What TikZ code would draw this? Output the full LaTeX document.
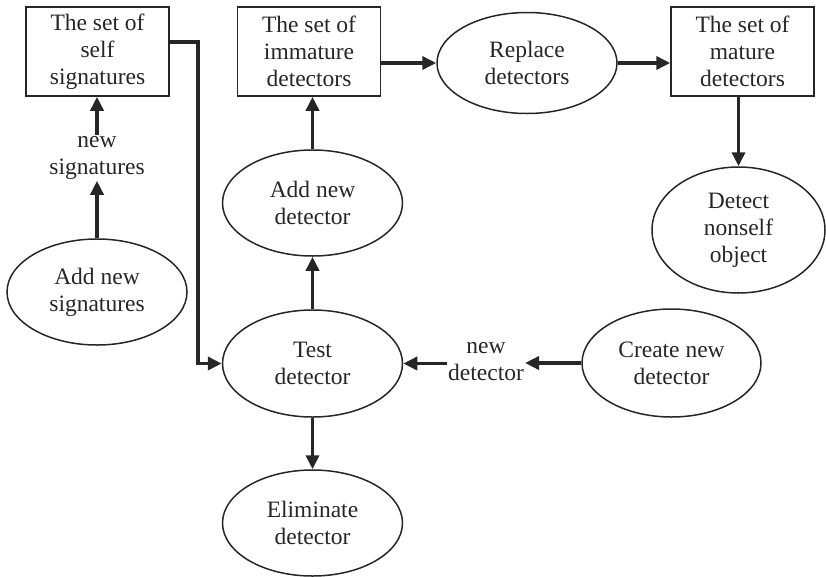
\documentclass[tikz,border=0pt]{standalone}
\usepackage{fontspec}
\setmainfont{Liberation Serif}
\newfontfamily\tnr{Liberation Serif}
\usetikzlibrary{shapes.geometric,arrows.meta}
\begin{document}
\begin{tikzpicture}[x=1pt,y=-1pt,
  every node/.style={font=\tnr\fontsize{23.5}{27}\selectfont, align=center, text=black!85},
  box/.style={draw=black!85, line width=1.5pt, minimum width=143pt, minimum height=89pt, inner sep=0pt},
  oval/.style={draw=black!85, ellipse, line width=1.5pt, inner sep=0pt, minimum width=180pt, minimum height=106pt},
  lbl/.style={inner sep=1pt},
  arr/.style={line width=3.6pt, draw=black!85, -{Triangle[length=14pt,width=13pt]}}]
\useasboundingbox (0,0) rectangle (826,576);
\node[box] (self) at (97.5,51.5) {The set of\\self\\signatures};
\node[box] (imm) at (309,51.5) {The set of\\immature\\detectors};
\node[box] (mat) at (742.5,51.5) {The set of\\mature\\detectors};
\node[oval, minimum height=101pt] (rep) at (527,63) {Replace\\detectors};
\node[oval, minimum width=173pt, minimum height=126pt] (det) at (738.5,230) {Detect\\nonself\\object};
\node[oval] (addd) at (312.5,203) {Add new\\detector};
\node[oval] (adds) at (97,292) {Add new\\signatures};
\node[oval, minimum height=107pt] (test) at (312.5,363.5) {Test\\detector};
\node[oval] (elim) at (312.5,523) {Eliminate\\detector};
\node[oval, minimum width=179pt, minimum height=108pt] (cre) at (671.5,363) {Create new\\detector};
\node[lbl] (ns) at (97,158) {new\\signatures};
\node[lbl] (nd) at (486,362) {new\\detector};
\coordinate (turn) at (198,42);
\draw[arr] (adds.north) -- (ns.south);
\draw[arr] (ns.north) -- (ns.north |- self.south);
\draw[arr] (self.east |- turn) -- (turn) |- (test.west);
\draw[arr] (test.north) -- (addd.south);
\draw[arr] (addd.north) -- (addd.north |- imm.south);
\draw[arr] (test.south) -- (elim.north);
\draw[arr] (cre.west) -- (nd.east |- cre.west);
\draw[arr] (nd.west |- test.east) -- (test.east);
\draw[arr] (imm.east |- rep.west) -- (rep.west);
\draw[arr] (rep.east) -- (mat.west |- rep.east);
\draw[arr] (mat.south -| det.north) -- (det.north);
\end{tikzpicture}
\end{document}
